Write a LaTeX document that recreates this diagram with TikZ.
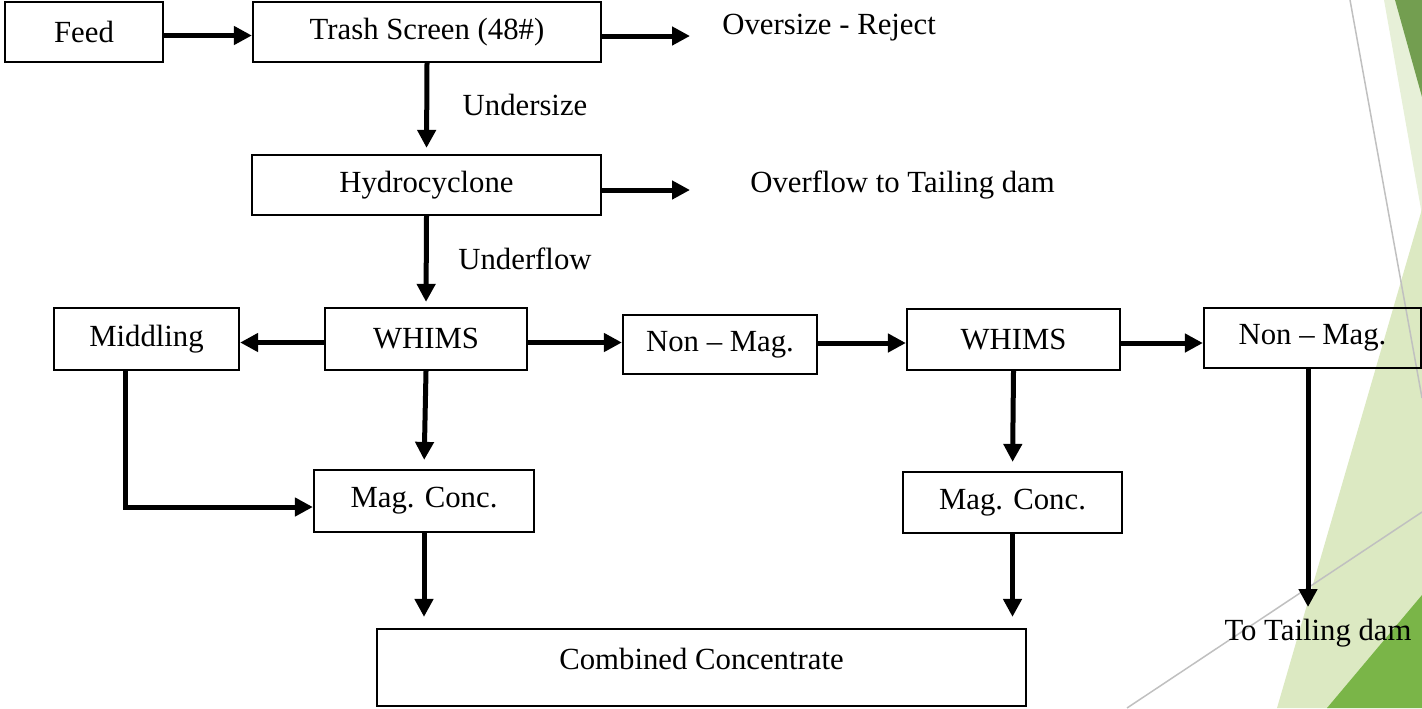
\documentclass[tikz,border=0pt]{standalone}
\usepackage{fontspec}
\setmainfont{Liberation Serif}
\usetikzlibrary{arrows.meta}
\definecolor{leafdark}{RGB}{115,158,80}
\definecolor{leafmid}{RGB}{122,181,72}
\definecolor{leaflight}{RGB}{220,233,194}
\definecolor{leafpale}{RGB}{231,240,216}
\definecolor{rulegray}{RGB}{192,192,192}

\begin{document}
\begin{tikzpicture}[x=0.02cm,y=-0.02cm,
  box/.style={draw,line width=0.045cm,inner sep=0pt,font=\fontsize{17.5}{21}\selectfont},
  txt/.style={inner sep=0pt,font=\fontsize{17.5}{21}\selectfont},
  flow/.style={line width=0.1cm,-{Triangle[length=0.36cm,width=0.36cm]}}]
  \def\px{0.02cm}
  \def\dy{-0.07cm}
  \useasboundingbox (0,0) rectangle (1422,708);
  %slide background
  \fill[leafpale] (1384,0)--(1422,0)--(1422,215)--cycle;
  \fill[leafdark] (1395,0)--(1422,0)--(1422,97)--cycle;
  \fill[leaflight] (1422,209)--(1422,708)--(1277,708)--cycle;
  \fill[leafmid] (1422,595)--(1422,708)--(1327,708)--cycle;
  \draw[rulegray,line width=0.03cm] (1350,0)--(1422,398);
  \draw[rulegray,line width=0.03cm] (1127,708)--(1422,512);
  %units
  \node[box,minimum width=158*\px,minimum height=60*\px] (feed) at (84,32) {Feed};
  \node[box,minimum width=348*\px,minimum height=60*\px] (trash) at (427,32) {Trash Screen (48\#)};
  \node[box,minimum width=349*\px,minimum height=60*\px] (hydro) at (426.5,185) {Hydrocyclone};
  \node[box,minimum width=202*\px,minimum height=62*\px] (whimsa) at (426,339) {WHIMS};
  \node[box,minimum width=185*\px,minimum height=62*\px] (midd) at (146.5,339) {Middling};
  \node[box,minimum width=194*\px,minimum height=59*\px] (nonmaga) at (720,344.5) {Non – Mag.};
  \node[box,minimum width=213*\px,minimum height=61*\px] (whimsb) at (1013.5,339.5) {WHIMS};
  \node[box,minimum width=217*\px,minimum height=60*\px] (nonmagb) at (1312.5,338) {Non – Mag.};
  \node[box,minimum width=220*\px,minimum height=62*\px] (magca) at (424,501) {Mag. Conc.};
  \node[box,minimum width=219*\px,minimum height=61*\px] (magcb) at (1012.5,502.5) {Mag. Conc.};
  \node[box,minimum width=649*\px,minimum height=77*\px,text depth=0.36cm] (comb) at (701.5,667.5) {Combined Concentrate};
  %labels
  \node[txt,anchor=west] (oversize) at (722,28) {Oversize - Reject};
  \node[txt] (undersize) at (525,105) {Undersize};
  \node[txt,anchor=west] (overflow) at (750,185) {Overflow to Tailing dam};
  \node[txt] (underflow) at (525,259) {Underflow};
  \node[txt] (totail) at (1318,633) {To Tailing dam};
  %flows
  \coordinate (overend) at (690,36);
  \coordinate (flowend) at (690,190);
  \coordinate (tailend) at (1308,607);
  \draw[flow] ([yshift=\dy]feed.east) -- ([yshift=\dy]trash.west);
  \draw[flow] (trash.east |- overend) -- (overend);
  \draw[flow,shorten >=6*\px] (trash.south) -- (hydro.north);
  \draw[flow] (hydro.east |- flowend) -- (flowend);
  \draw[flow,shorten >=5*\px] (hydro.south) -- (whimsa.north);
  \draw[flow] ([yshift=\dy]whimsa.west) -- ([yshift=\dy]whimsa.west -| midd.east);
  \draw[flow] ([yshift=\dy]whimsa.east) -- ([yshift=\dy]whimsa.east -| nonmaga.west);
  \draw[flow] ([yshift=\dy]whimsb.west -| nonmaga.east) -- ([yshift=\dy]whimsb.west);
  \draw[flow] ([yshift=\dy]whimsb.east) -- ([yshift=\dy]whimsb.east -| nonmagb.west);
  \draw[flow] ([xshift=-21.5*\px]midd.south) |- ([yshift=-6*\px]magca.west);
  \draw[flow,shorten >=9*\px] (whimsa.south) -- (magca.north);
  \draw[flow,shorten >=11*\px] (magca.south) -- (magca.south |- comb.north);
  \draw[flow,shorten >=9*\px] (whimsb.south) -- (magcb.north);
  \draw[flow,shorten >=11*\px] (magcb.south) -- (magcb.south |- comb.north);
  \draw[flow] (nonmagb.south -| tailend) -- (tailend);
\end{tikzpicture}
\end{document}
